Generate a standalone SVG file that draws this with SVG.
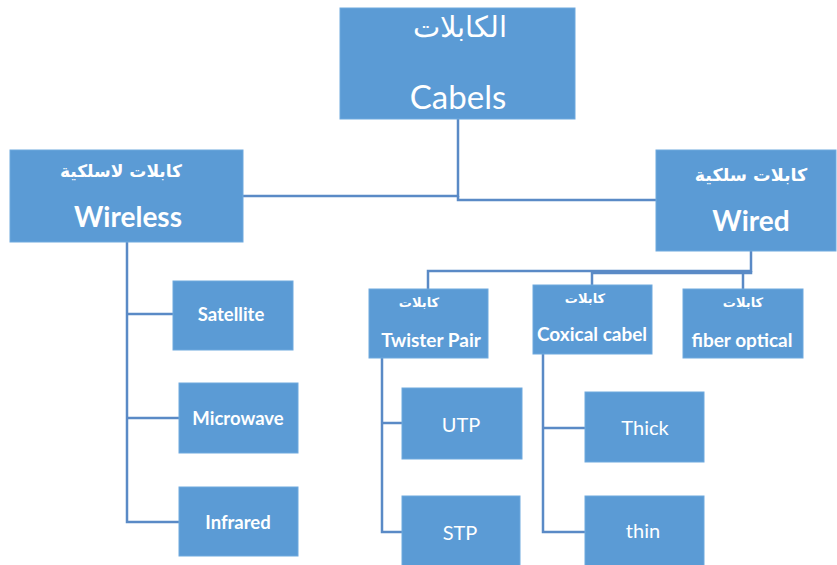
<svg xmlns="http://www.w3.org/2000/svg" width="837" height="565" viewBox="0 0 837 565">
<style>
.box{fill:#5B9BD5;stroke:#6FA9DE;stroke-width:1}
.t{fill:#fff;font-family:Lato,"DejaVu Sans",sans-serif;text-anchor:middle}
.b{font-weight:bold}
.ar{font-family:"DejaVu Sans",sans-serif}
.c{fill:none;stroke:#5A8AC6;stroke-width:2.5}
</style>
<rect width="837" height="565" fill="#fff"/>
<g id="connectors">
<path class="c" d="M458 119V196H243"/>
<path class="c" d="M458 196V200H656"/>
<path class="c" d="M751 251V271H428V289"/>
<path class="c" d="M751 271V273H592V285"/>
<path class="c" d="M743 273V289"/>
<path class="c" d="M127 242V522H179M127 314H173M127 418H179"/>
<path class="c" d="M382 358V532H402M382 423H402"/>
<path class="c" d="M543 354V532H585M543 428H585"/>
</g>
<g id="root"><rect class="box" x="340" y="8" width="235" height="111"/>
<text class="t ar" x="460" y="37" font-size="29" font-weight="300">الكابلات</text>
<text class="t" x="458" y="109" font-size="33">Cabels</text></g>
<g id="wireless"><rect class="box" x="10" y="150" width="233" height="92"/>
<text class="t ar b" x="121" y="177" font-size="17">كابلات لاسلكية</text>
<text class="t b" x="128" y="227" font-size="28">Wireless</text></g>
<g id="wired"><rect class="box" x="656" y="150" width="180" height="101"/>
<text class="t ar b" x="751" y="181" font-size="17.5">كابلات سلكية</text>
<text class="t b" x="751" y="231" font-size="28">Wired</text></g>
<g id="twisted"><rect class="box" x="369" y="289" width="119" height="69"/>
<text class="t ar b" x="419" y="307" font-size="13">كابلات</text>
<text class="t b" x="431" y="347" font-size="19">Twister Pair</text></g>
<g id="coaxial"><rect class="box" x="533" y="285" width="119" height="69"/>
<text class="t ar b" x="585" y="303" font-size="13">كابلات</text>
<text class="t b" x="592" y="341" font-size="19">Coxical cabel</text></g>
<g id="fiber"><rect class="box" x="683" y="289" width="120" height="69"/>
<text class="t ar b" x="743" y="307" font-size="13">كابلات</text>
<text class="t b" x="742" y="347" font-size="19">fiber optical</text></g>
<g id="satellite"><rect class="box" x="173" y="281" width="120" height="69"/>
<text class="t b" x="231" y="321" font-size="18.5">Satellite</text></g>
<g id="microwave"><rect class="box" x="179" y="383" width="119" height="70"/>
<text class="t b" x="238" y="425" font-size="18.5">Microwave</text></g>
<g id="infrared"><rect class="box" x="179" y="487" width="119" height="69"/>
<text class="t b" x="238" y="529" font-size="18.5">Infrared</text></g>
<g id="utp"><rect class="box" x="402" y="388" width="120" height="71"/>
<text class="t" x="461" y="432" font-size="20">UTP</text></g>
<g id="stp"><rect class="box" x="402" y="496" width="118" height="72"/>
<text class="t" x="460" y="540" font-size="20">STP</text></g>
<g id="thick"><rect class="box" x="585" y="392" width="119" height="70"/>
<text class="t" x="645" y="435" font-size="20">Thick</text></g>
<g id="thin"><rect class="box" x="585" y="496" width="119" height="72"/>
<text class="t" x="643" y="538" font-size="20">thin</text></g>
</svg>
